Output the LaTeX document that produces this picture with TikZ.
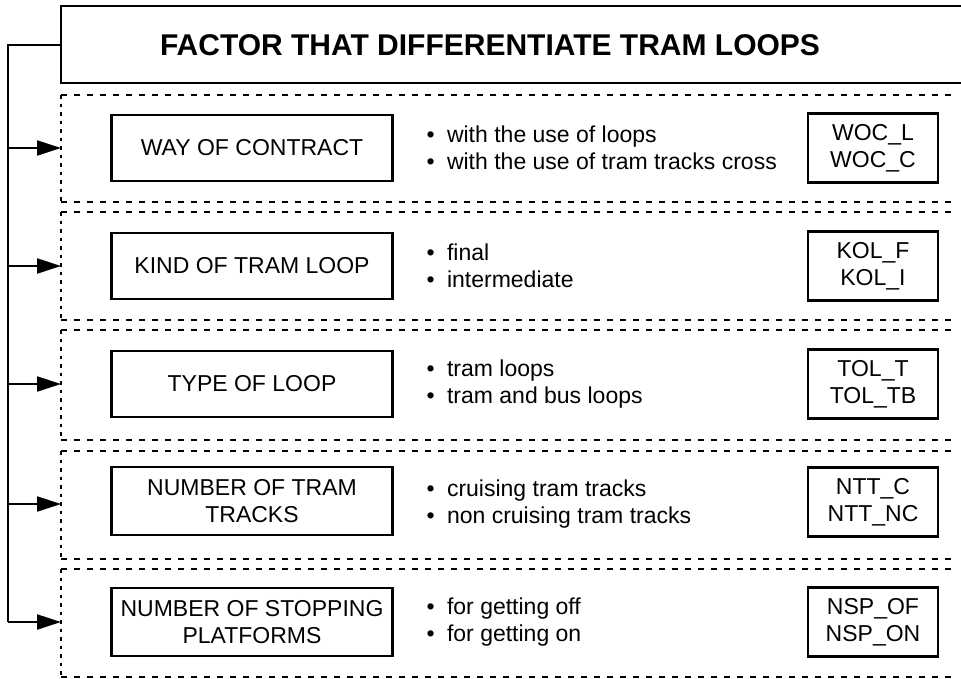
\documentclass[tikz,border=0pt]{standalone}
\usepackage{fontspec}
\setmainfont{Liberation Sans}
\usetikzlibrary{arrows.meta,positioning}

\tikzset{
    factorbox/.style={draw=black, line width=2.4pt, minimum width=281pt, minimum height=66pt, align=center, font=\fontsize{23}{27}\selectfont},
    codebox/.style={draw=black, line width=2.4pt, minimum width=130pt, minimum height=69pt, align=center, font=\fontsize{23}{27}\selectfont},
    bullets/.style={anchor=west, align=left, font=\fontsize{23}{27.5}\selectfont},
    panelline/.style={line width=2.8pt, dash pattern=on 6pt off 7pt},
    panelside/.style={line width=2.8pt, dash pattern=on 3.5pt off 5pt},
    feed/.style={line width=2.2pt, -{Triangle[length=24pt,width=15pt]}}
}
\newcommand{\bul}{\makebox[20.5pt][l]{•}}

\begin{document}
\begin{tikzpicture}[x=1pt, y=-1pt]
    \useasboundingbox (0,0) rectangle (961,678);

    % Intestazione
    \draw[line width=2.6pt] (975,6) -- (61,6) -- (61,83) -- (975,83);
    \node[font=\fontsize{30}{34}\selectfont\bfseries] (header) at (490,45) {FACTOR THAT DIFFERENTIATE TRAM LOOPS};
    \coordinate (hdrleft) at (61,45);

    % Pannelli tratteggiati
    \draw[panelline] (61,95) -- (952,95);   \draw[panelline] (61,202) -- (952,202);
    \draw[panelline] (61,212) -- (952,212); \draw[panelline] (61,320) -- (952,320);
    \draw[panelline] (61,330) -- (952,330); \draw[panelline] (61,440) -- (952,440);
    \draw[panelline] (61,451) -- (952,451); \draw[panelline] (61,559) -- (952,559);
    \draw[panelline] (61,569) -- (952,569); \draw[panelline] (61,677) -- (952,677);
    \draw[panelside] (61,95) -- (61,202);
    \draw[panelside] (61,212) -- (61,320);
    \draw[panelside] (61,330) -- (61,440);
    \draw[panelside] (61,451) -- (61,559);
    \draw[panelside] (61,569) -- (61,677);

    % Fattori
    \node[factorbox] (woc) at (252,148) {WAY OF CONTRACT};
    \node[factorbox] (kol) at (252,266) {KIND OF TRAM LOOP};
    \node[factorbox] (tol) at (252,384) {TYPE OF LOOP};
    \node[factorbox, minimum height=68pt] (ntt) at (252,501) {NUMBER OF TRAM\\TRACKS};
    \node[factorbox, minimum height=68pt] (nsp) at (252,622) {NUMBER OF STOPPING\\PLATFORMS};

    % Descrizioni
    \node[bullets] (wocdesc) at (423,148) {\bul with the use of loops\\\bul with the use of tram tracks cross};
    \node[bullets] (koldesc) at (423,266) {\bul final\\\bul intermediate};
    \node[bullets] (toldesc) at (423,384) {\bul tram loops\\\bul tram and bus loops};
    \node[bullets] (nttdesc) at (423,504) {\bul cruising tram tracks\\\bul non cruising tram tracks};
    \node[bullets] (nspdesc) at (423,622) {\bul for getting off\\\bul for getting on};

    % Codici
    \node[codebox] (woccode) at (873,148) {WOC\_L\\WOC\_C};
    \node[codebox] (kolcode) at (873,266) {KOL\_F\\KOL\_I};
    \node[codebox] (tolcode) at (873,384) {TOL\_T\\TOL\_TB};
    \node[codebox] (nttcode) at (873,502) {NTT\_C\\NTT\_NC};
    \node[codebox] (nspcode) at (873,622) {NSP\_OF\\NSP\_ON};

    % Collegamenti a sinistra
    \coordinate (trunktop) at (8,45);
    \coordinate (wocin) at (61,148);
    \coordinate (kolin) at (61,266);
    \coordinate (tolin) at (61,384);
    \coordinate (nttin) at (61,504);
    \coordinate (nspin) at (61,622);
    \draw[line width=2.2pt] (hdrleft) -- (trunktop) -- (trunktop |- nspin);
    \draw[feed] (trunktop |- wocin) -- (wocin);
    \draw[feed] (trunktop |- kolin) -- (kolin);
    \draw[feed] (trunktop |- tolin) -- (tolin);
    \draw[feed] (trunktop |- nttin) -- (nttin);
    \draw[feed] (trunktop |- nspin) -- (nspin);
\end{tikzpicture}
\end{document}
